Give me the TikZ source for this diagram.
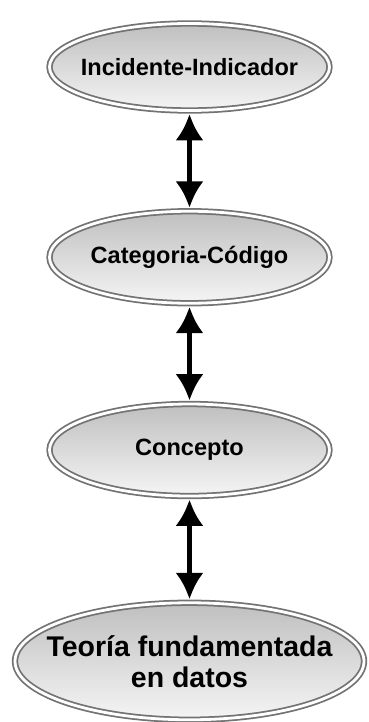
\documentclass[tikz,border=0pt]{standalone}
\usepackage{fontspec}
\setmainfont{Liberation Sans}
\usetikzlibrary{arrows.meta,positioning,shapes.geometric}

\begin{document}
\begin{tikzpicture}[
  node distance=1.98cm,
  oval/.style={ellipse, draw=black!55, line width=1pt, double=white, double distance=1.6pt,
    top color=black!25, bottom color=black!4, inner sep=0pt, inner xsep=-14pt, align=center,
    minimum width=5.6cm, minimum height=1.84cm,
    font=\bfseries\fontsize{13.4}{16}\selectfont},
  arrow/.style={{Latex[length=15pt,width=16pt]}-{Latex[length=15pt,width=16pt]}, line width=2.7pt,
    shorten <=1.5pt, shorten >=1.5pt}
]
\useasboundingbox (0,0) rectangle (7.36,-14.44);
\node[oval, minimum height=1.74cm] (inc) at (3.79,-1.34) {Incidente-Indicador};
\node[oval, below=of inc] (cat) {Categoria-Código};
\node[oval, below=of cat] (con) {Concepto};
\node[oval, below=2.1cm of con, minimum width=6.98cm, minimum height=2.34cm,
  font=\bfseries\fontsize{16.2}{17.7}\selectfont] (teo) {Teoría fundamentada\\en datos};

\draw[arrow] (inc) -- (cat);
\draw[arrow] (cat) -- (con);
\draw[arrow] (con) -- (teo);
\end{tikzpicture}
\end{document}
